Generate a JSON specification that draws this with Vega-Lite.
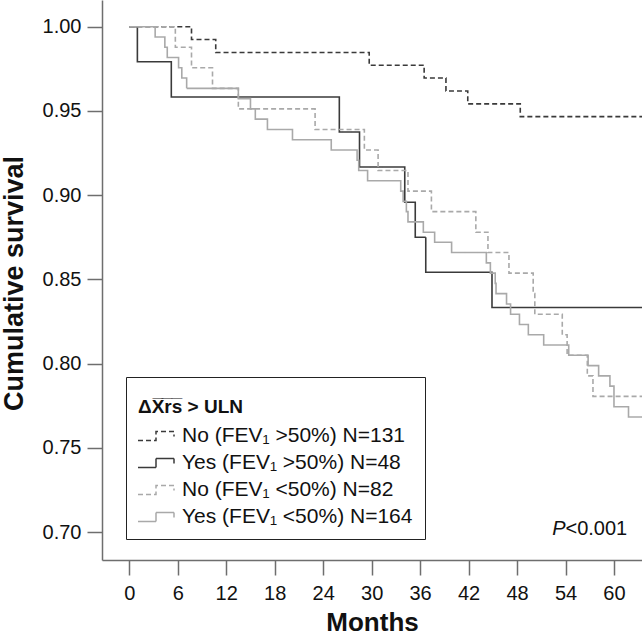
{
  "$schema": "https://vega.github.io/schema/vega-lite/v6.json",
  "width": 540,
  "height": 560,
  "autosize": {"type": "none"},
  "padding": {"left": 102, "top": 0, "right": 0, "bottom": 76},
  "background": "white",
  "config": {
    "view": {"stroke": null},
    "font": "Liberation Sans",
    "axis": {
      "grid": false,
      "domainColor": "#6e6e6e",
      "domainWidth": 1.5,
      "tickColor": "#6e6e6e",
      "tickWidth": 1.5,
      "tickSize": 15,
      "labelFont": "Liberation Sans",
      "labelFontSize": 20,
      "labelColor": "#111111",
      "titleFont": "Liberation Sans",
      "titleFontWeight": "bold",
      "titleColor": "#111111"
    }
  },
  "datasets": {
    "km": [
      {"group": "No (FEV₁ >50%) N=131", "month": 0, "surv": 1.0},
      {"group": "No (FEV₁ >50%) N=131", "month": 7.7, "surv": 0.9924},
      {"group": "No (FEV₁ >50%) N=131", "month": 10.7, "surv": 0.9847},
      {"group": "No (FEV₁ >50%) N=131", "month": 29.7, "surv": 0.9771},
      {"group": "No (FEV₁ >50%) N=131", "month": 36.5, "surv": 0.9695},
      {"group": "No (FEV₁ >50%) N=131", "month": 39.2, "surv": 0.9618},
      {"group": "No (FEV₁ >50%) N=131", "month": 41.9, "surv": 0.9542},
      {"group": "No (FEV₁ >50%) N=131", "month": 48.4, "surv": 0.9466},
      {"group": "No (FEV₁ >50%) N=131", "month": 63.5, "surv": 0.9466},

      {"group": "Yes (FEV₁ >50%) N=48", "month": 0, "surv": 1.0},
      {"group": "Yes (FEV₁ >50%) N=48", "month": 1.0, "surv": 0.9792},
      {"group": "Yes (FEV₁ >50%) N=48", "month": 5.2, "surv": 0.9583},
      {"group": "Yes (FEV₁ >50%) N=48", "month": 26.0, "surv": 0.9375},
      {"group": "Yes (FEV₁ >50%) N=48", "month": 28.5, "surv": 0.9167},
      {"group": "Yes (FEV₁ >50%) N=48", "month": 34.1, "surv": 0.8958},
      {"group": "Yes (FEV₁ >50%) N=48", "month": 35.4, "surv": 0.875},
      {"group": "Yes (FEV₁ >50%) N=48", "month": 36.7, "surv": 0.8542},
      {"group": "Yes (FEV₁ >50%) N=48", "month": 44.9, "surv": 0.8333},
      {"group": "Yes (FEV₁ >50%) N=48", "month": 63.5, "surv": 0.8333},

      {"group": "No (FEV₁ <50%) N=82", "month": 0, "surv": 1.0},
      {"group": "No (FEV₁ <50%) N=82", "month": 5.7, "surv": 0.9878},
      {"group": "No (FEV₁ <50%) N=82", "month": 7.7, "surv": 0.9756},
      {"group": "No (FEV₁ <50%) N=82", "month": 10.3, "surv": 0.9634},
      {"group": "No (FEV₁ <50%) N=82", "month": 13.5, "surv": 0.9512},
      {"group": "No (FEV₁ <50%) N=82", "month": 23.0, "surv": 0.939},
      {"group": "No (FEV₁ <50%) N=82", "month": 29.1, "surv": 0.9268},
      {"group": "No (FEV₁ <50%) N=82", "month": 30.8, "surv": 0.9146},
      {"group": "No (FEV₁ <50%) N=82", "month": 34.5, "surv": 0.9024},
      {"group": "No (FEV₁ <50%) N=82", "month": 37.4, "surv": 0.8902},
      {"group": "No (FEV₁ <50%) N=82", "month": 42.9, "surv": 0.878},
      {"group": "No (FEV₁ <50%) N=82", "month": 44.4, "surv": 0.8659},
      {"group": "No (FEV₁ <50%) N=82", "month": 47.0, "surv": 0.8537},
      {"group": "No (FEV₁ <50%) N=82", "month": 50.0, "surv": 0.8415},
      {"group": "No (FEV₁ <50%) N=82", "month": 50.2, "surv": 0.8293},
      {"group": "No (FEV₁ <50%) N=82", "month": 53.6, "surv": 0.8171},
      {"group": "No (FEV₁ <50%) N=82", "month": 54.2, "surv": 0.8049},
      {"group": "No (FEV₁ <50%) N=82", "month": 56.7, "surv": 0.7927},
      {"group": "No (FEV₁ <50%) N=82", "month": 57.4, "surv": 0.7805},
      {"group": "No (FEV₁ <50%) N=82", "month": 63.5, "surv": 0.7805},

      {"group": "Yes (FEV₁ <50%) N=164", "month": 0, "surv": 1.0},
      {"group": "Yes (FEV₁ <50%) N=164", "month": 3.2, "surv": 0.9939},
      {"group": "Yes (FEV₁ <50%) N=164", "month": 4.4, "surv": 0.9878},
      {"group": "Yes (FEV₁ <50%) N=164", "month": 4.7, "surv": 0.9817},
      {"group": "Yes (FEV₁ <50%) N=164", "month": 6.1, "surv": 0.9756},
      {"group": "Yes (FEV₁ <50%) N=164", "month": 6.5, "surv": 0.9695},
      {"group": "Yes (FEV₁ <50%) N=164", "month": 7.1, "surv": 0.9634},
      {"group": "Yes (FEV₁ <50%) N=164", "month": 13.5, "surv": 0.9573},
      {"group": "Yes (FEV₁ <50%) N=164", "month": 15.0, "surv": 0.9512},
      {"group": "Yes (FEV₁ <50%) N=164", "month": 15.6, "surv": 0.9451},
      {"group": "Yes (FEV₁ <50%) N=164", "month": 17.1, "surv": 0.939},
      {"group": "Yes (FEV₁ <50%) N=164", "month": 20.2, "surv": 0.9329},
      {"group": "Yes (FEV₁ <50%) N=164", "month": 25.0, "surv": 0.9268},
      {"group": "Yes (FEV₁ <50%) N=164", "month": 28.2, "surv": 0.9207},
      {"group": "Yes (FEV₁ <50%) N=164", "month": 28.4, "surv": 0.9146},
      {"group": "Yes (FEV₁ <50%) N=164", "month": 29.5, "surv": 0.9085},
      {"group": "Yes (FEV₁ <50%) N=164", "month": 33.6, "surv": 0.9024},
      {"group": "Yes (FEV₁ <50%) N=164", "month": 33.9, "surv": 0.8963},
      {"group": "Yes (FEV₁ <50%) N=164", "month": 34.3, "surv": 0.8902},
      {"group": "Yes (FEV₁ <50%) N=164", "month": 34.5, "surv": 0.8841},
      {"group": "Yes (FEV₁ <50%) N=164", "month": 36.4, "surv": 0.878},
      {"group": "Yes (FEV₁ <50%) N=164", "month": 37.8, "surv": 0.872},
      {"group": "Yes (FEV₁ <50%) N=164", "month": 39.9, "surv": 0.8659},
      {"group": "Yes (FEV₁ <50%) N=164", "month": 44.2, "surv": 0.8598},
      {"group": "Yes (FEV₁ <50%) N=164", "month": 44.7, "surv": 0.8537},
      {"group": "Yes (FEV₁ <50%) N=164", "month": 45.3, "surv": 0.8476},
      {"group": "Yes (FEV₁ <50%) N=164", "month": 45.4, "surv": 0.8415},
      {"group": "Yes (FEV₁ <50%) N=164", "month": 46.7, "surv": 0.8354},
      {"group": "Yes (FEV₁ <50%) N=164", "month": 47.2, "surv": 0.8293},
      {"group": "Yes (FEV₁ <50%) N=164", "month": 48.3, "surv": 0.8232},
      {"group": "Yes (FEV₁ <50%) N=164", "month": 49.4, "surv": 0.8171},
      {"group": "Yes (FEV₁ <50%) N=164", "month": 51.3, "surv": 0.811},
      {"group": "Yes (FEV₁ <50%) N=164", "month": 54.4, "surv": 0.8049},
      {"group": "Yes (FEV₁ <50%) N=164", "month": 56.8, "surv": 0.7988},
      {"group": "Yes (FEV₁ <50%) N=164", "month": 58.1, "surv": 0.7927},
      {"group": "Yes (FEV₁ <50%) N=164", "month": 59.5, "surv": 0.7866},
      {"group": "Yes (FEV₁ <50%) N=164", "month": 60.0, "surv": 0.7744},
      {"group": "Yes (FEV₁ <50%) N=164", "month": 61.8, "surv": 0.7683},
      {"group": "Yes (FEV₁ <50%) N=164", "month": 63.5, "surv": 0.7683}
    ],
    "note": [
      {"month": 54.0, "surv": 0.6982, "p": "P", "rest": "<0.001"}
    ]
  },
  "layer": [
    {
      "data": {"name": "km"},
      "mark": {"type": "line", "interpolate": "step-after", "strokeWidth": 1.6, "clip": true},
      "encoding": {
        "x": {
          "field": "month", "type": "quantitative",
          "scale": {"domain": [-3.38, 63.47], "nice": false, "zero": false},
          "axis": {
            "values": [0, 6, 12, 18, 24, 30, 36, 42, 48, 54, 60],
            "labelPadding": 8,
            "title": "Months",
            "titleFontSize": 26,
            "titleBaseline": "alphabetic",
            "titleX": 270,
            "titleY": 70
          }
        },
        "y": {
          "field": "surv", "type": "quantitative",
          "scale": {"domain": [0.68338, 1.01585], "nice": false, "zero": false},
          "axis": {
            "values": [0.7, 0.75, 0.8, 0.85, 0.9, 0.95, 1.0],
            "format": ".2f",
            "labelPadding": 6,
            "title": "Cumulative survival",
            "titleFontSize": 27,
            "titleBaseline": "alphabetic",
            "titleX": -80,
            "titleY": 283
          }
        },
        "stroke": {
          "field": "group", "type": "nominal",
          "scale": {
            "domain": ["No (FEV₁ >50%) N=131", "Yes (FEV₁ >50%) N=48", "No (FEV₁ <50%) N=82", "Yes (FEV₁ <50%) N=164"],
            "range": ["#3a3a3a", "#3a3a3a", "#a9a9a9", "#a9a9a9"]
          },
          "legend": {
            "orient": "none", "legendX": 24, "legendY": 377,
            "title": ["", "ΔX\u0305r\u0305s\u0305 > ULN"],
            "titleFontSize": 19, "titleFontWeight": "bold", "titleColor": "#111111",
            "titleLineHeight": 9, "titlePadding": 6,
            "titleFont": "Liberation Sans",
            "labelFont": "Liberation Sans", "labelLimit": 400,
            "labelFontSize": 21, "labelColor": "#111111", "labelOffset": 13,
            "symbolType": "M-1.5,0.375H0V-0.375H1.5V0.05",
            "symbolSize": 576, "symbolStrokeWidth": 1.5, "symbolOffset": 5,
            "rowPadding": 4,
            "padding": 12, "strokeColor": "#222222", "fillColor": "white", "cornerRadius": 0
          }
        },
        "strokeDash": {
          "field": "group", "type": "nominal",
          "scale": {
            "domain": ["No (FEV₁ >50%) N=131", "Yes (FEV₁ >50%) N=48", "No (FEV₁ <50%) N=82", "Yes (FEV₁ <50%) N=164"],
            "range": [[5, 3], [1, 0], [5, 3], [1, 0]]
          },
          "legend": {
            "orient": "none", "legendX": 24, "legendY": 377,
            "title": ["", "ΔX\u0305r\u0305s\u0305 > ULN"],
            "titleFontSize": 19, "titleFontWeight": "bold", "titleColor": "#111111",
            "titleLineHeight": 9, "titlePadding": 6,
            "titleFont": "Liberation Sans",
            "labelFont": "Liberation Sans", "labelLimit": 400,
            "labelFontSize": 21, "labelColor": "#111111", "labelOffset": 13,
            "symbolType": "M-1.5,0.375H0V-0.375H1.5V0.05",
            "symbolSize": 576, "symbolStrokeWidth": 1.5, "symbolOffset": 5,
            "rowPadding": 4,
            "padding": 12, "strokeColor": "#222222", "fillColor": "white", "cornerRadius": 0
          }
        }
      }
    },
    {
      "data": {"name": "note"},
      "mark": {"type": "text", "align": "right", "baseline": "alphabetic", "fontSize": 20, "fontStyle": "italic", "font": "Liberation Sans", "color": "#111111"},
      "encoding": {
        "x": {"field": "month", "type": "quantitative", "scale": {"domain": [-3.38, 63.47], "nice": false, "zero": false}},
        "y": {"field": "surv", "type": "quantitative", "scale": {"domain": [0.68338, 1.01585], "nice": false, "zero": false}},
        "text": {"field": "p"}
      }
    },
    {
      "data": {"name": "note"},
      "mark": {"type": "text", "align": "left", "baseline": "alphabetic", "fontSize": 20, "font": "Liberation Sans", "color": "#111111"},
      "encoding": {
        "x": {"field": "month", "type": "quantitative", "scale": {"domain": [-3.38, 63.47], "nice": false, "zero": false}},
        "y": {"field": "surv", "type": "quantitative", "scale": {"domain": [0.68338, 1.01585], "nice": false, "zero": false}},
        "text": {"field": "rest"}
      }
    }
  ]
}
